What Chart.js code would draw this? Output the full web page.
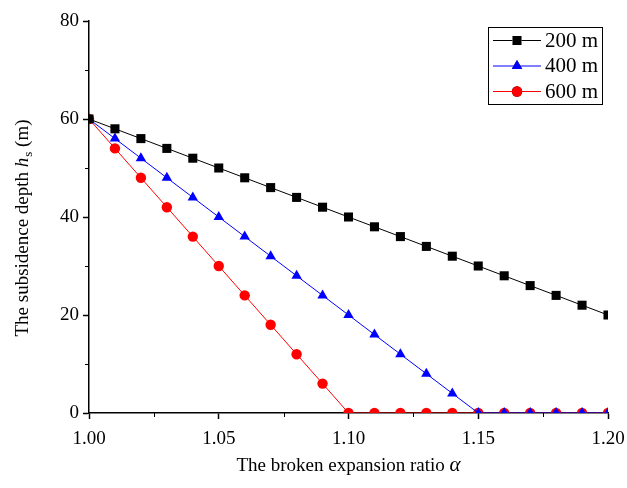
<!DOCTYPE html>
<html>
<head>
<meta charset="utf-8">
<script src="https://cdn.jsdelivr.net/npm/chart.js@4"></script>
<style>
  html, body { margin: 0; padding: 0; background: #fff; }
  #wrap { width: 627px; height: 488px; }
</style>
</head>
<body>
<div id="wrap"><canvas id="subsidenceChart" width="627" height="488"></canvas></div>
<script>
// values
var ratios = [1.00, 1.01, 1.02, 1.03, 1.04, 1.05, 1.06, 1.07, 1.08, 1.09, 1.10,
              1.11, 1.12, 1.13, 1.14, 1.15, 1.16, 1.17, 1.18, 1.19, 1.20];
var depth200 = [60, 58, 56, 54, 52, 50, 48, 46, 44, 42, 40, 38, 36, 34, 32, 30, 28, 26, 24, 22, 20];
var depth400 = [60, 56, 52, 48, 44, 40, 36, 32, 28, 24, 20, 16, 12, 8, 4, 0, 0, 0, 0, 0, 0];
var depth600 = [60, 54, 48, 42, 36, 30, 24, 18, 12, 6, 0, 0, 0, 0, 0, 0, 0, 0, 0, 0, 0];
var seriesNames = ['200 m', '400 m', '600 m'];
var xTicks = [1.00, 1.05, 1.10, 1.15, 1.20];
var yTicks = [0, 20, 40, 60, 80];

var serif = '"Liberation Serif", "Times New Roman", serif';

function toPoints(vals) {
    return vals.map(function(v, i) { return { x: ratios[i], y: v }; });
}

function makeSet(label, vals, color, style, radius) {
    return {
        label: label,
        data: toPoints(vals),
        borderColor: color,
        backgroundColor: color,
        borderWidth: 1,
        pointStyle: style,
        pointRadius: radius,
        pointBorderWidth: 0,
        pointHoverRadius: radius,
        clip: 0,
        tension: 0
    };
}

// minor ticks, axis titles and the framed legend
var extras = {
    id: 'extras',
    afterDraw: function(chart) {
        var ctx = chart.ctx;
        var xs = chart.scales.x, ys = chart.scales.y;
        var area = chart.chartArea;
        ctx.save();
        ctx.strokeStyle = '#000';
        ctx.lineWidth = 1;
        ctx.beginPath();
        for (var i = 0; i < xTicks.length - 1; i++) {
            var px = Math.round(xs.getPixelForValue((xTicks[i] + xTicks[i + 1]) / 2)) + 0.5;
            ctx.moveTo(px, area.bottom);
            ctx.lineTo(px, area.bottom + 4);
        }
        for (var j = 0; j < yTicks.length - 1; j++) {
            var py = Math.round(ys.getPixelForValue((yTicks[j] + yTicks[j + 1]) / 2)) + 0.5;
            ctx.moveTo(area.left, py);
            ctx.lineTo(area.left - 4, py);
        }
        ctx.stroke();

        // x title
        ctx.fillStyle = '#000';
        ctx.textBaseline = 'alphabetic';
        var t1 = 'The broken expansion ratio ';
        ctx.font = 'italic 21px ' + serif;
        var wa = ctx.measureText('\u03B1').width;
        ctx.font = '19px ' + serif;
        var w1 = ctx.measureText(t1).width;
        var sx = (area.left + area.right) / 2 - (w1 + wa) / 2;
        ctx.textAlign = 'left';
        ctx.fillText(t1, sx, 471);
        ctx.font = 'italic 21px ' + serif;
        ctx.fillText('\u03B1', sx + w1, 471);

        // y title (rotated)
        ctx.save();
        ctx.translate(28, 228);
        ctx.rotate(-Math.PI / 2);
        var p1 = 'The subsidence depth ', p2 = 'h', p3 = 's', p4 = ' (m)';
        ctx.font = '19px ' + serif;
        var a = ctx.measureText(p1).width;
        var d = ctx.measureText(p4).width;
        ctx.font = 'italic 19px ' + serif;
        var b = ctx.measureText(p2).width;
        ctx.font = '13px ' + serif;
        var c = ctx.measureText(p3).width + 1;
        var start = -(a + b + c + d) / 2;
        ctx.font = '19px ' + serif;
        ctx.fillText(p1, start, 0);
        ctx.font = 'italic 19px ' + serif;
        ctx.fillText(p2, start + a, 0);
        ctx.font = '13px ' + serif;
        ctx.fillText(p3, start + a + b + 1, 4);
        ctx.font = '19px ' + serif;
        ctx.fillText(p4, start + a + b + c, 0);
        ctx.restore();

        // legend box
        var bx = 488.5, by = 27.5, bw = 114, bh = 77;
        ctx.fillStyle = '#fff';
        ctx.fillRect(bx, by, bw, bh);
        ctx.strokeStyle = '#000';
        ctx.strokeRect(bx, by, bw, bh);
        chart.data.datasets.forEach(function(ds, k) {
            var ry = 40 + k * 25.5;
            ctx.strokeStyle = ds.borderColor;
            ctx.lineWidth = 1;
            ctx.beginPath();
            ctx.moveTo(493, ry + 0.5);
            ctx.lineTo(541, ry + 0.5);
            ctx.stroke();
            Chart.helpers.drawPoint(ctx, {
                pointStyle: ds.pointStyle, radius: ds.pointRadius, rotation: 0, borderWidth: 0
            }, 517, ry + 0.5);
            ctx.fillStyle = ds.backgroundColor;
            ctx.fill();
            ctx.fillStyle = '#000';
            ctx.font = '21px ' + serif;
            ctx.textBaseline = 'middle';
            ctx.fillText(seriesNames[k], 545, ry + 1);
        });
        ctx.restore();
    }
};

var ctx = document.getElementById('subsidenceChart').getContext('2d');
var myChart = new Chart(ctx, {
    type: 'line',
    data: {
        datasets: [
            makeSet(seriesNames[0], depth200, '#000000', 'rect', 6.4),
            makeSet(seriesNames[1], depth400, '#0000ff', 'triangle', 6),
            makeSet(seriesNames[2], depth600, '#ff0000', 'circle', 5.2)
        ]
    },
    options: {
        responsive: false,
        animation: false,
        layout: { padding: { left: 0, top: 21, right: 19, bottom: 0 } },
        plugins: {
            legend: { display: false },
            tooltip: { enabled: false }
        },
        scales: {
            x: {
                type: 'linear',
                min: 1.0,
                max: 1.2,
                afterFit: function(scale) {
                    scale.height = 75;
                    scale.paddingLeft = 0;
                    scale.paddingRight = 0;
                },
                afterBuildTicks: function(scale) {
                    scale.ticks = xTicks.map(function(v) { return { value: v }; });
                },
                border: { display: true, color: '#000', width: 1.5 },
                grid: { drawOnChartArea: false, drawTicks: true, tickLength: 6, tickColor: '#000', tickWidth: 1.5 },
                ticks: {
                    color: '#000',
                    font: { family: serif, size: 19 },
                    padding: 9,
                    maxRotation: 0,
                    callback: function(v) { return Number(v).toFixed(2); }
                }
            },
            y: {
                type: 'linear',
                min: 0,
                max: 80,
                afterFit: function(scale) {
                    scale.width = 89;
                    scale.paddingTop = 0;
                    scale.paddingBottom = 0;
                },
                afterBuildTicks: function(scale) {
                    scale.ticks = yTicks.map(function(v) { return { value: v }; });
                },
                border: { display: true, color: '#000', width: 1.5 },
                grid: { drawOnChartArea: false, drawTicks: true, tickLength: 6, tickColor: '#000', tickWidth: 1.5 },
                ticks: {
                    color: '#000',
                    font: { family: serif, size: 19 },
                    padding: 4
                }
            }
        }
    },
    plugins: [extras]
});
</script>
</body>
</html>
